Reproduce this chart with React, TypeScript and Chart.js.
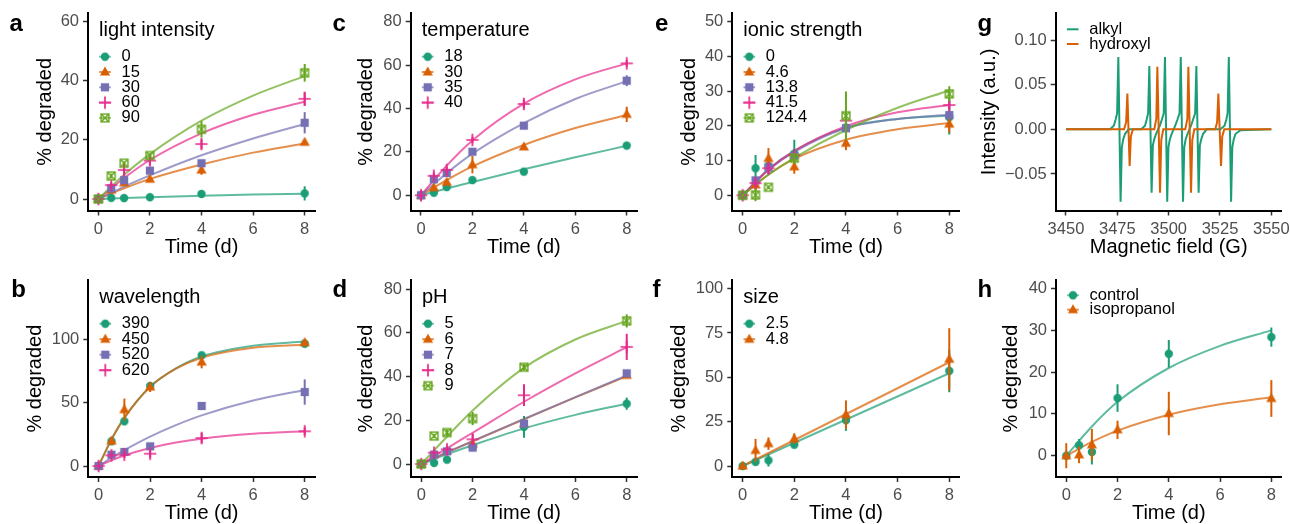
import React, { useEffect, useRef } from 'react';
import { Chart, registerables } from 'chart.js';

Chart.register(...registerables);

const FONT = '"Liberation Sans", Arial, Helvetica, sans-serif';
const COLORS = ['#1B9E77', '#D95F02', '#7570B3', '#E7298A', '#66A61E'];
const SHAPES = ['circle', 'triangle', 'square', 'plus', 'squarecross'];

// shared time axes
const TIME = [0, 0.5, 1, 2, 4, 8];
const FIT_T = [0, 1, 2, 4, 6, 8];
const FIT_T_B = [0, 0.5, 1, 2, 3, 4, 6, 8];
const FIT_T_LIN = [0, 8];
const TIME_TICKS = [0, 2, 4, 6, 8];

// a: light intensity
const A_LEVELS = ['0', '15', '30', '60', '90'];
const A_MEAN = [
  [0, 0.4, 0.3, 0.6, 1.7, 1.9],
  [0, 3.0, 5.5, 6.7, 9.8, 19.2],
  [0, 3.6, 6.4, 9.6, 12.1, 25.8],
  [0, 4.7, 9.8, 13.0, 18.6, 33.9],
  [0, 7.8, 12.1, 14.7, 23.6, 42.7],
];
const A_ERR = [
  [0.3, 0.3, 0.3, 0.5, 0.6, 2.4],
  [0.3, 0.8, 0.8, 1.0, 1.6, 0.8],
  [0.3, 1.5, 1.5, 1.0, 1.0, 3.6],
  [0.3, 1.0, 1.8, 1.5, 1.6, 2.4],
  [0.3, 0.8, 0.6, 0.6, 2.8, 3.0],
];
const A_FIT = [
  [0, 0.35, 0.6, 1.1, 1.5, 1.8],
  [0, 3.6, 6.8, 11.7, 15.7, 18.8],
  [0, 4.2, 8.0, 14.8, 20.5, 25.4],
  [0, 7.1, 13.2, 22.2, 28.5, 32.9],
  [0, 8.2, 15.2, 26.5, 35.0, 41.6],
];
const A_Y_TICKS = [0, 20, 40, 60];

// c: temperature
const C_LEVELS = ['18', '30', '35', '40'];
const C_MEAN = [
  [0, 1.2, 3.8, 7.0, 10.9, 22.9],
  [0, 3.5, 6.0, 14.1, 22.3, 37.3],
  [0, 7.4, 10.3, 20.1, 32.1, 52.8],
  [0, 9.0, 11.7, 25.5, 42.1, 60.8],
];
const C_ERR = [
  [0.3, 0.5, 0.5, 0.5, 0.8, 0.8],
  [0.5, 0.8, 1.2, 4.0, 1.0, 3.5],
  [0.5, 1.0, 1.2, 1.0, 1.2, 2.5],
  [2.3, 1.5, 1.5, 1.5, 2.0, 1.5],
];
const C_FIT = [
  [0, 3.1, 6.1, 12.0, 17.5, 22.8],
  [0, 7.0, 13.3, 23.2, 31.0, 37.0],
  [0, 10.2, 19.2, 33.3, 44.4, 52.6],
  [0, 13.7, 25.3, 42.2, 53.4, 60.8],
];
const C_Y_TICKS = [0, 20, 40, 60, 80];

// e: ionic strength
const E_LEVELS = ['0', '4.6', '13.8', '41.5', '124.4'];
const E_MEAN = [
  [0, 7.8, 8.5, 12.0, 19.5, 22.5],
  [0, 3.0, 10.6, 8.2, 15.0, 20.5],
  [0, 4.3, 8.0, 11.4, 19.3, 23.1],
  [0, 3.5, 7.8, 11.6, 21.5, 26.0],
  [0, 0.1, 2.3, 10.7, 22.9, 29.2],
];
const E_ERR = [
  [0.5, 3.8, 2.5, 4.0, 1.5, 5.0],
  [0.5, 1.5, 3.0, 2.0, 2.0, 2.5],
  [0.5, 1.0, 1.0, 1.0, 1.0, 1.0],
  [0.5, 1.2, 1.5, 1.0, 1.2, 1.2],
  [0.5, 1.8, 0.5, 1.5, 7.0, 2.2],
];
const E_FIT = [
  [0, 7.5, 12.8, 19.5, 22.0, 23.0],
  [0, 6.0, 10.5, 16.0, 19.0, 20.8],
  [0, 7.3, 12.5, 19.3, 22.0, 23.2],
  [0, 7.4, 12.8, 19.9, 23.9, 26.0],
  [0, 5.9, 10.8, 18.8, 25.2, 30.2],
];
const E_Y_TICKS = [0, 10, 20, 30, 40, 50];

// g: EPR spectra
const G_LEVELS = ['alkyl', 'hydroxyl'];
const G_ALKYL_X = [
  3450, 3471.5, 3473.3, 3474.2, 3474.9, 3475.5, 3476.6, 3477.2, 3477.9, 3478.8, 3480.5,
  3486.6, 3488.5, 3489.3, 3490.0, 3490.6, 3491.7, 3492.3, 3493.0, 3493.9, 3494.8,
  3495.7, 3496.7, 3497.6, 3498.2, 3499.3, 3499.9, 3500.6, 3501.5, 3502.4,
  3503.2, 3504.3, 3505.3, 3505.9, 3507.0, 3507.6, 3508.3, 3509.2, 3510.1,
  3510.9, 3511.9, 3512.9, 3513.5, 3514.6, 3515.2, 3515.9, 3516.8, 3518.5,
  3525.2, 3527.2, 3528.1, 3528.7, 3529.3, 3530.4, 3531.0, 3531.7, 3532.6, 3535.0, 3550,
];
const G_ALKYL_Y = [
  0, 0, 0.004, 0.011, 0.018, 0.081, -0.081, -0.02, -0.011, -0.005, 0,
  0, 0.004, 0.011, 0.018, 0.071, -0.071, -0.018, -0.011, -0.005, 0,
  0.004, 0.011, 0.018, 0.081, -0.081, -0.02, -0.011, -0.005, 0,
  0.004, 0.011, 0.018, 0.081, -0.081, -0.02, -0.011, -0.005, 0,
  0.004, 0.011, 0.018, 0.071, -0.071, -0.018, -0.011, -0.005, 0,
  0, 0.004, 0.011, 0.018, 0.081, -0.081, -0.02, -0.011, -0.005, -0.001, 0,
];
const G_HYDROXYL_X = [
  3450, 3478.3, 3479.3, 3479.9, 3481.0, 3481.6, 3482.6,
  3493.0, 3494.0, 3494.5, 3495.8, 3496.4, 3497.4,
  3508.1, 3509.1, 3509.6, 3510.9, 3511.5, 3512.5,
  3522.7, 3523.6, 3524.2, 3525.5, 3526.1, 3527.1, 3550,
];
const G_HYDROXYL_Y = [
  0, 0, 0.008, 0.04, -0.041, -0.008, 0,
  0, 0.012, 0.07, -0.071, -0.012, 0,
  0, 0.012, 0.07, -0.071, -0.012, 0,
  0, 0.008, 0.04, -0.041, -0.008, 0, 0,
];
const G_X_TICKS = [3450, 3475, 3500, 3525, 3550];
const G_Y_TICKS = [-0.05, 0, 0.05, 0.1];
const G_Y_LABELS = ['\u22120.05', '0.00', '0.05', '0.10'];

// b: wavelength
const B_LEVELS = ['390', '450', '520', '620'];
const B_MEAN = [
  [0, 19.5, 35.3, 63.2, 87.4, 96.6],
  [0, 19.7, 44.5, 62.4, 82.1, 97.4],
  [0, 8.9, 11.1, 15.5, 47.4, 58.4],
  [0, 8.4, 8.9, 9.7, 22.1, 27.4],
];
const B_ERR = [
  [1, 2, 3, 2, 1.5, 3],
  [1, 3, 8.7, 4, 5, 2],
  [1, 2, 2, 1.5, 2, 10],
  [1, 2, 2.5, 3, 4, 3],
];
const B_FIT = [
  [0, 21, 38, 62.5, 77, 86.5, 95, 98.2],
  [0, 21, 38, 62.5, 76.8, 85.5, 93.3, 95.7],
  [0, 6.5, 12.5, 23.2, 32.3, 40, 51.7, 60],
  [0, 4.5, 8.3, 14.2, 18.5, 21.6, 25.4, 27.4],
];
const B_Y_TICKS = [0, 50, 100];

// d: pH
const D_LEVELS = ['5', '6', '7', '8', '9'];
const D_MEAN = [
  [0, 0.5, 2.0, 7.8, 17.0, 27.6],
  [0, 4.5, 6.0, 9.3, 18.5, 40.6],
  [0, 4.3, 5.8, 7.5, 18.5, 41.5],
  [0, 5.2, 6.7, 11.3, 31.5, 53.6],
  [0, 12.8, 14.4, 20.8, 44.3, 65.5],
];
const D_ERR = [
  [0.5, 0.5, 0.8, 1.5, 5.0, 2.8],
  [0.5, 1.5, 1.0, 1.0, 2.0, 1.0],
  [0.5, 1.0, 1.0, 1.0, 1.5, 1.0],
  [1.0, 1.0, 1.0, 2.5, 5.0, 6.0],
  [0.5, 1.0, 1.5, 3.0, 1.5, 3.0],
];
const D_FIT = [
  [0, 4.5, 8.6, 16.3, 22.5, 27.6],
  [0, 5.3, 10.4, 20.5, 30.5, 40.2],
  [0, 5.3, 10.5, 20.6, 30.6, 40.5],
  [0, 7.2, 14.3, 28.5, 41.5, 53.5],
  [0, 12.5, 24.5, 44.0, 57.0, 65.5],
];
const D_Y_TICKS = [0, 20, 40, 60, 80];

// f: size
const F_LEVELS = ['2.5', '4.8'];
const F_MEAN = [
  [0, 2.3, 3.2, 12.0, 25.8, 53.6],
  [0, 8.8, 12.6, 15.4, 29.0, 60.2],
];
const F_ERR = [
  [0.5, 1.0, 3.5, 1.5, 6.0, 12.0],
  [0.5, 6.5, 3.5, 3.0, 8.0, 17.5],
];
const F_FIT = [
  [0, 52.3],
  [0, 58.5],
];
const F_Y_TICKS = [0, 25, 50, 75, 100];

// h: scavenger
const H_LEVELS = ['control', 'isopropanol'];
const H_MEAN = [
  [0, 2.5, 0.9, 13.8, 24.4, 28.4],
  [0, 0.2, 2.6, 6.2, 10.1, 13.7],
];
const H_ERR = [
  [0.5, 1.5, 3.0, 3.3, 3.3, 2.3],
  [3.0, 2.0, 3.8, 2.2, 5.2, 4.4],
];
const H_FIT = [
  [0, 7.0, 12.9, 21.0, 26.3, 30.0],
  [0, 3.3, 6.0, 9.8, 12.3, 14.0],
];
const H_Y_TICKS = [0, 10, 20, 30, 40];

// ---------------------------------------------------------------

function hexA(hex: string, a: number) {
  const n = parseInt(hex.slice(1), 16);
  return `rgba(${n >> 16},${(n >> 8) & 255},${n & 255},${a})`;
}

const MK = 20;
function makeMarker(shape: string, color: string): HTMLCanvasElement {
  const c = document.createElement('canvas');
  c.width = MK;
  c.height = MK;
  const ctx = c.getContext('2d')!;
  const m = MK / 2;
  ctx.fillStyle = color;
  ctx.strokeStyle = color;
  if (shape === 'circle') {
    ctx.beginPath();
    ctx.arc(m, m, 4.2, 0, Math.PI * 2);
    ctx.fill();
  } else if (shape === 'triangle') {
    ctx.beginPath();
    ctx.moveTo(m, m - 5.4);
    ctx.lineTo(m + 5.1, m + 3.6);
    ctx.lineTo(m - 5.1, m + 3.6);
    ctx.closePath();
    ctx.fill();
  } else if (shape === 'square') {
    ctx.fillRect(m - 4.1, m - 4.1, 8.2, 8.2);
  } else if (shape === 'plus') {
    ctx.lineWidth = 1.7;
    ctx.beginPath();
    ctx.moveTo(m - 6.2, m);
    ctx.lineTo(m + 6.2, m);
    ctx.moveTo(m, m - 6.2);
    ctx.lineTo(m, m + 6.2);
    ctx.stroke();
  } else {
    ctx.lineWidth = 1.4;
    ctx.strokeRect(m - 3.9, m - 3.9, 7.8, 7.8);
    ctx.beginPath();
    ctx.moveTo(m - 3.9, m - 3.9);
    ctx.lineTo(m + 3.9, m + 3.9);
    ctx.moveTo(m + 3.9, m - 3.9);
    ctx.lineTo(m - 3.9, m + 3.9);
    ctx.stroke();
  }
  return c;
}

interface SeriesSet {
  labels: string[];
  mean: number[][];
  err: number[][];
  fit: number[][];
  fitT: number[];
}
interface SpectraSet {
  labels: string[];
  xs: number[][];
  ys: number[][];
}
interface Def {
  key: string;
  letter: string;
  letterX: number;
  letterY: number;
  cx: number;
  cy: number;
  L: number;
  R: number;
  T: number;
  B: number;
  xMin: number;
  xMax: number;
  xTicks: number[];
  yMin: number;
  yMax: number;
  yTicks: number[];
  yLabels?: string[];
  xTitle: string;
  yTitle: string;
  yTitleOff: number;
  legendTitle?: string;
  legendStart: number;
  legendStep: number;
  series?: SeriesSet;
  spectra?: SpectraSet;
}

const TOP = -20;
const BOT = 242;
const CW = 340;
const CH = 300;

const PANELS: Def[] = [
  {
    key: 'a', letter: 'a', letterX: 9.5, letterY: 30.7, cx: 0, cy: TOP,
    L: 88, R: 315, T: 13.3, B: 210.5, xMin: -0.4, xMax: 8.4, xTicks: TIME_TICKS,
    yMin: -3.89, yMax: 62.84, yTicks: A_Y_TICKS, xTitle: 'Time (d)', yTitle: '% degraded', yTitleOff: 43,
    legendTitle: 'light intensity', legendStart: 43.4, legendStep: 15.3,
    series: { labels: A_LEVELS, mean: A_MEAN, err: A_ERR, fit: A_FIT, fitT: FIT_T },
  },
  {
    key: 'c', letter: 'c', letterX: 332.5, letterY: 30.7, cx: 322, cy: TOP,
    L: 410.7, R: 637, T: 13.3, B: 210.5, xMin: -0.4, xMax: 8.4, xTicks: TIME_TICKS,
    yMin: -7.0, yMax: 83.87, yTicks: C_Y_TICKS, xTitle: 'Time (d)', yTitle: '% degraded', yTitleOff: 44,
    legendTitle: 'temperature', legendStart: 43.4, legendStep: 15.3,
    series: { labels: C_LEVELS, mean: C_MEAN, err: C_ERR, fit: C_FIT, fitT: FIT_T },
  },
  {
    key: 'e', letter: 'e', letterX: 655, letterY: 30.7, cx: 644, cy: TOP,
    L: 732.3, R: 959.6, T: 13.3, B: 210.5, xMin: -0.4, xMax: 8.4, xTicks: TIME_TICKS,
    yMin: -4.38, yMax: 52.42, yTicks: E_Y_TICKS, xTitle: 'Time (d)', yTitle: '% degraded', yTitleOff: 43.3,
    legendTitle: 'ionic strength', legendStart: 43.4, legendStep: 15.3,
    series: { labels: E_LEVELS, mean: E_MEAN, err: E_ERR, fit: E_FIT, fitT: FIT_T },
  },
  {
    key: 'g', letter: 'g', letterX: 977.5, letterY: 30.7, cx: 966, cy: TOP,
    L: 1055.7, R: 1281.6, T: 13.3, B: 210.5, xMin: 3445, xMax: 3555, xTicks: G_X_TICKS,
    yMin: -0.0909, yMax: 0.1299, yTicks: G_Y_TICKS, yLabels: G_Y_LABELS,
    xTitle: 'Magnetic field (G)', yTitle: 'Intensity (a.u.)', yTitleOff: 66,
    legendStart: 16, legendStep: 14.7,
    spectra: { labels: G_LEVELS, xs: [G_ALKYL_X, G_HYDROXYL_X], ys: [G_ALKYL_Y, G_HYDROXYL_Y] },
  },
  {
    key: 'b', letter: 'b', letterX: 11.2, letterY: 297.3, cx: 0, cy: BOT,
    L: 88.3, R: 315, T: 280.3, B: 477, xMin: -0.4, xMax: 8.4, xTicks: TIME_TICKS,
    yMin: -8.68, yMax: 146.6, yTicks: B_Y_TICKS, xTitle: 'Time (d)', yTitle: '% degraded', yTitleOff: 52.5,
    legendTitle: 'wavelength', legendStart: 43.4, legendStep: 15.5,
    series: { labels: B_LEVELS, mean: B_MEAN, err: B_ERR, fit: B_FIT, fitT: FIT_T_B },
  },
  {
    key: 'd', letter: 'd', letterX: 332.5, letterY: 297.3, cx: 322, cy: BOT,
    L: 411, R: 637, T: 280.3, B: 477, xMin: -0.4, xMax: 8.4, xTicks: TIME_TICKS,
    yMin: -5.95, yMax: 84.1, yTicks: D_Y_TICKS, xTitle: 'Time (d)', yTitle: '% degraded', yTitleOff: 44.3,
    legendTitle: 'pH', legendStart: 43.4, legendStep: 15.5,
    series: { labels: D_LEVELS, mean: D_MEAN, err: D_ERR, fit: D_FIT, fitT: FIT_T },
  },
  {
    key: 'f', letter: 'f', letterX: 652.5, letterY: 297.3, cx: 644, cy: BOT,
    L: 732.3, R: 959.6, T: 280.3, B: 477, xMin: -0.4, xMax: 8.4, xTicks: TIME_TICKS,
    yMin: -6.2, yMax: 104.7, yTicks: F_Y_TICKS, xTitle: 'Time (d)', yTitle: '% degraded', yTitleOff: 53.3,
    legendTitle: 'size', legendStart: 43.4, legendStep: 15.5,
    series: { labels: F_LEVELS, mean: F_MEAN, err: F_ERR, fit: F_FIT, fitT: FIT_T_LIN },
  },
  {
    key: 'h', letter: 'h', letterX: 977.5, letterY: 297.3, cx: 966, cy: BOT,
    L: 1056, R: 1281.6, T: 280.3, B: 477, xMin: -0.4, xMax: 8.4, xTicks: TIME_TICKS,
    yMin: -5.1, yMax: 42.0, yTicks: H_Y_TICKS, xTitle: 'Time (d)', yTitle: '% degraded', yTitleOff: 44.3,
    legendStart: 15, legendStep: 14.4,
    series: { labels: H_LEVELS, mean: H_MEAN, err: H_ERR, fit: H_FIT, fitT: FIT_T },
  },
];

const TICK_FONT = { family: FONT, size: 16.5 };
const TITLE_FONT = { family: FONT, size: 20 };

function buildChart(canvas: HTMLCanvasElement, p: Def): Chart {
  const yW = p.yTitleOff + 12;
  const xH = 48.5;
  const padding = {
    left: p.L - p.cx - yW,
    right: p.cx + CW - p.R,
    top: p.T - p.cy,
    bottom: p.cy + CH - p.B - xH,
  };

  const datasets: any[] = [];
  const errMap = new Map<number, { mean: number[]; err: number[]; color: string }>();
  const legendItems: { label: string; lineColor: string; marker?: HTMLCanvasElement }[] = [];

  if (p.series) {
    const s = p.series;
    s.labels.forEach((lab, i) => {
      const color = COLORS[i];
      const lineColor = hexA(color, 0.7);
      const marker = makeMarker(SHAPES[i], color);
      datasets.push({
        type: 'line',
        data: s.fitT.map((t, j) => ({ x: t, y: s.fit[i][j] })),
        borderColor: lineColor,
        borderWidth: 2,
        pointRadius: 0,
        cubicInterpolationMode: 'monotone',
        fill: false,
        order: 100 - i,
      });
      errMap.set(datasets.length, { mean: s.mean[i], err: s.err[i], color });
      datasets.push({
        type: 'scatter',
        data: TIME.map((t, j) => ({ x: t, y: s.mean[i][j] })),
        pointStyle: marker,
        pointRadius: 6,
        borderWidth: 0,
        backgroundColor: color,
        showLine: false,
        order: 50 - i,
      });
      legendItems.push({ label: lab, lineColor, marker });
    });
  }
  if (p.spectra) {
    const sp = p.spectra;
    sp.labels.forEach((lab, i) => {
      const color = COLORS[i];
      datasets.push({
        type: 'line',
        data: sp.xs[i].map((x, j) => ({ x, y: sp.ys[i][j] })),
        borderColor: color,
        borderWidth: 2,
        pointRadius: 0,
        tension: 0,
        fill: false,
        order: 10 - i,
      });
      legendItems.push({ label: lab, lineColor: color });
    });
  }

  const errPlugin = {
    id: 'err_' + p.key,
    beforeDatasetDraw(chart: any, args: any) {
      const info = errMap.get(args.index);
      if (!info) return;
      const ys = chart.scales.y;
      const ctx = chart.ctx;
      ctx.save();
      ctx.strokeStyle = info.color;
      ctx.lineWidth = 2;
      args.meta.data.forEach((pt: any, j: number) => {
        const m = info.mean[j];
        const e = info.err[j];
        ctx.beginPath();
        ctx.moveTo(pt.x, ys.getPixelForValue(m - e));
        ctx.lineTo(pt.x, ys.getPixelForValue(m + e));
        ctx.stroke();
      });
      ctx.restore();
    },
  };

  const decorPlugin = {
    id: 'decor_' + p.key,
    afterDraw(chart: any) {
      const ctx = chart.ctx;
      const { left, top } = chart.chartArea;
      ctx.save();
      ctx.fillStyle = '#000';
      ctx.font = `bold 24px ${FONT}`;
      ctx.textAlign = 'left';
      ctx.textBaseline = 'alphabetic';
      ctx.fillText(p.letter, p.letterX - p.cx, p.letterY - p.cy);

      ctx.textBaseline = 'middle';
      if (p.legendTitle) {
        ctx.font = `20px ${FONT}`;
        ctx.fillText(p.legendTitle, left + 11, top + 17);
      }
      legendItems.forEach((it, i) => {
        const y = top + p.legendStart + i * p.legendStep;
        ctx.strokeStyle = it.lineColor;
        ctx.lineWidth = 2;
        ctx.beginPath();
        ctx.moveTo(left + 11.2, y);
        ctx.lineTo(left + 22.8, y);
        ctx.stroke();
        if (it.marker) ctx.drawImage(it.marker, left + 17 - MK / 2, y - MK / 2);
        ctx.fillStyle = '#000';
        ctx.font = `16.5px ${FONT}`;
        ctx.fillText(it.label, left + 33.5, y);
      });
      ctx.restore();
    },
  };

  const axisCommon = {
    type: 'linear',
    grid: {
      display: true,
      drawOnChartArea: false,
      drawTicks: true,
      tickLength: 5,
      tickWidth: 1.5,
      tickColor: '#333333',
    },
    border: { display: true, color: '#000000', width: 2 },
  };

  return new Chart(canvas, {
    type: 'line',
    data: { datasets },
    options: {
      responsive: false,
      maintainAspectRatio: false,
      devicePixelRatio: 1,
      animation: false,
      events: [],
      layout: { padding },
      plugins: { legend: { display: false }, tooltip: { enabled: false }, title: { display: false } },
      scales: {
        x: {
          ...axisCommon,
          position: 'bottom',
          min: p.xMin,
          max: p.xMax,
          afterBuildTicks: (sc: any) => {
            sc.ticks = p.xTicks.map((v) => ({ value: v }));
          },
          afterFit: (sc: any) => {
            sc.height = xH;
          },
          ticks: {
            autoSkip: false,
            maxRotation: 0,
            minRotation: 0,
            padding: 4,
            color: '#4D4D4D',
            font: TICK_FONT,
            callback: (v: any) => String(v),
          },
          title: { display: true, text: p.xTitle, color: '#000000', font: TITLE_FONT, padding: 0 },
        },
        y: {
          ...axisCommon,
          position: 'left',
          min: p.yMin,
          max: p.yMax,
          afterBuildTicks: (sc: any) => {
            sc.ticks = p.yTicks.map((v) => ({ value: v }));
          },
          afterFit: (sc: any) => {
            sc.width = yW;
          },
          ticks: {
            autoSkip: false,
            padding: 4,
            color: '#4D4D4D',
            font: TICK_FONT,
            callback: (v: any, i: number) => (p.yLabels ? p.yLabels[i] : String(v)),
          },
          title: { display: true, text: p.yTitle, color: '#000000', font: TITLE_FONT, padding: 0 },
        },
      },
    } as any,
    plugins: [errPlugin, decorPlugin],
  } as any);
}

function Panel({ def }: { def: Def }) {
  const ref = useRef<HTMLCanvasElement>(null);
  useEffect(() => {
    const chart = buildChart(ref.current!, def);
    return () => chart.destroy();
  }, [def]);
  return (
    <canvas
      ref={ref}
      width={CW}
      height={CH}
      style={{ position: 'absolute', left: def.cx, top: def.cy, width: CW, height: CH }}
    />
  );
}

export default function App() {
  return (
    <div
      style={{
        position: 'fixed',
        left: 0,
        top: 0,
        width: 1290,
        height: 524,
        overflow: 'hidden',
        background: '#ffffff',
      }}
    >
      {PANELS.map((p) => (
        <Panel key={p.key} def={p} />
      ))}
    </div>
  );
}
